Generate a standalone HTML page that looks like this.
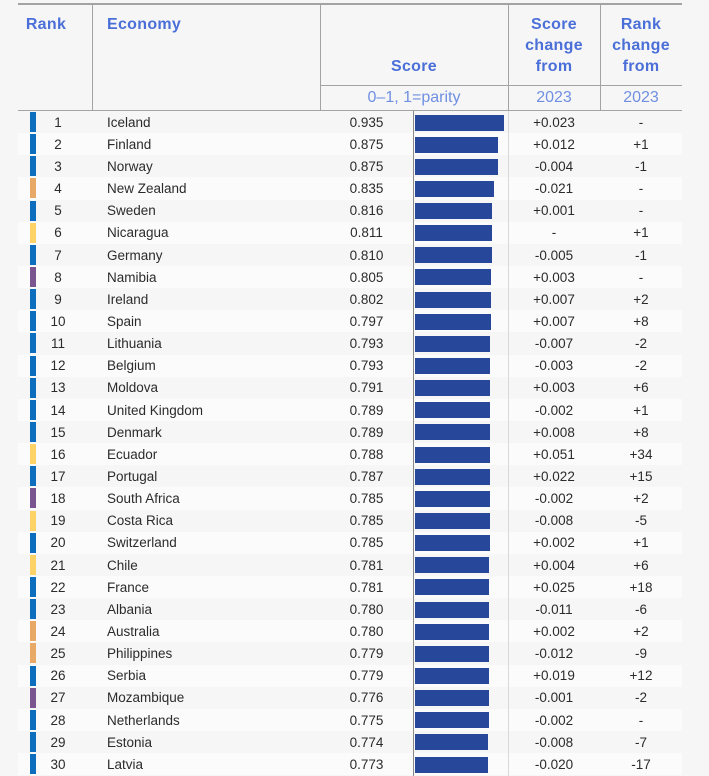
<!DOCTYPE html>
<html><head><meta charset="utf-8">
<style>
*{margin:0;padding:0;box-sizing:border-box}
html,body{width:709px;height:776px;overflow:hidden;background:#f6f6f6;font-family:"Liberation Sans",Arial,sans-serif}
.hl{position:absolute;background:#a3a3a3}
.h{position:absolute;color:#4b6fd8;font-weight:bold;font-size:16px;letter-spacing:0.3px;line-height:21px;text-align:center}
.s{position:absolute;color:#6f8fe2;font-size:16px;line-height:22px;text-align:center;top:86.5px}
.r{position:absolute;left:18px;width:664px;height:22.14px;font-size:13.5px;color:#2b2b2b;line-height:22.14px}
.r.e{background:#fbfbfb}
.r i{position:absolute;left:12px;top:1px;width:5.5px;height:20px}
.b1{background:#0d6ebd}.o{background:#e8a966}.y{background:#fdd266}.p{background:#7a5590}
.r span{top:0.8px}
.r .k{position:absolute;left:20px;width:40px;text-align:center}
.r .n{position:absolute;left:89px}
.r .c{position:absolute;left:302px;width:93px;text-align:center}
.r b{position:absolute;left:396.5px;top:3.5px;height:16px;background:#27479a}
.r .d{position:absolute;left:490px;width:92px;text-align:center}
.r .g{position:absolute;left:582px;width:82px;text-align:center}
</style></head><body>
<div class="hl" style="left:18px;top:3px;width:664px;height:1.5px"></div>
<div class="hl" style="left:320px;top:84.5px;width:362px;height:1.2px"></div>
<div class="hl" style="left:18px;top:109.5px;width:664px;height:1.5px"></div>
<div class="hl" style="left:91.5px;top:3px;width:1.3px;height:107px"></div>
<div class="hl" style="left:319.5px;top:3px;width:1.3px;height:107px"></div>
<div class="hl" style="left:508px;top:3px;width:1.3px;height:107px"></div>
<div class="hl" style="left:599.5px;top:3px;width:1.3px;height:107px"></div>
<div style="position:absolute;left:413px;top:111px;width:1.3px;height:665px;background:#8a8a8a;z-index:2"></div>
<div style="position:absolute;left:508px;top:111px;width:1.3px;height:665px;background:#d8d8d8;z-index:2"></div>

<div class="h" style="left:22px;top:13.5px;width:48px">Rank</div>
<div class="h" style="left:107px;top:13.5px;text-align:left">Economy</div>
<div class="h" style="left:320px;top:55.5px;width:188px">Score</div>
<div class="h" style="left:508px;top:13.5px;width:92px">Score<br>change<br>from</div>
<div class="h" style="left:600px;top:13.5px;width:82px">Rank<br>change<br>from</div>
<div class="s" style="left:320px;width:188px">0–1, 1=parity</div>
<div class="s" style="left:508px;width:92px">2023</div>
<div class="s" style="left:600px;width:82px">2023</div>

<div class="r" style="top:111px"><i class="b1"></i><span class="k">1</span><span class="n">Iceland</span><span class="c">0.935</span><b style="width:89.3px"></b><span class="d">+0.023</span><span class="g">-</span></div>
<div class="r e" style="top:133.14px"><i class="b1"></i><span class="k">2</span><span class="n">Finland</span><span class="c">0.875</span><b style="width:83.6px"></b><span class="d">+0.012</span><span class="g">+1</span></div>
<div class="r" style="top:155.28px"><i class="b1"></i><span class="k">3</span><span class="n">Norway</span><span class="c">0.875</span><b style="width:83.6px"></b><span class="d">-0.004</span><span class="g">-1</span></div>
<div class="r e" style="top:177.42px"><i class="o"></i><span class="k">4</span><span class="n">New Zealand</span><span class="c">0.835</span><b style="width:79.7px"></b><span class="d">-0.021</span><span class="g">-</span></div>
<div class="r" style="top:199.56px"><i class="b1"></i><span class="k">5</span><span class="n">Sweden</span><span class="c">0.816</span><b style="width:77.9px"></b><span class="d">+0.001</span><span class="g">-</span></div>
<div class="r e" style="top:221.7px"><i class="y"></i><span class="k">6</span><span class="n">Nicaragua</span><span class="c">0.811</span><b style="width:77.5px"></b><span class="d">-</span><span class="g">+1</span></div>
<div class="r" style="top:243.84px"><i class="b1"></i><span class="k">7</span><span class="n">Germany</span><span class="c">0.810</span><b style="width:77.4px"></b><span class="d">-0.005</span><span class="g">-1</span></div>
<div class="r e" style="top:265.98px"><i class="p"></i><span class="k">8</span><span class="n">Namibia</span><span class="c">0.805</span><b style="width:76.9px"></b><span class="d">+0.003</span><span class="g">-</span></div>
<div class="r" style="top:288.12px"><i class="b1"></i><span class="k">9</span><span class="n">Ireland</span><span class="c">0.802</span><b style="width:76.6px"></b><span class="d">+0.007</span><span class="g">+2</span></div>
<div class="r e" style="top:310.26px"><i class="b1"></i><span class="k">10</span><span class="n">Spain</span><span class="c">0.797</span><b style="width:76.1px"></b><span class="d">+0.007</span><span class="g">+8</span></div>
<div class="r" style="top:332.4px"><i class="b1"></i><span class="k">11</span><span class="n">Lithuania</span><span class="c">0.793</span><b style="width:75.7px"></b><span class="d">-0.007</span><span class="g">-2</span></div>
<div class="r e" style="top:354.54px"><i class="b1"></i><span class="k">12</span><span class="n">Belgium</span><span class="c">0.793</span><b style="width:75.7px"></b><span class="d">-0.003</span><span class="g">-2</span></div>
<div class="r" style="top:376.68px"><i class="b1"></i><span class="k">13</span><span class="n">Moldova</span><span class="c">0.791</span><b style="width:75.5px"></b><span class="d">+0.003</span><span class="g">+6</span></div>
<div class="r e" style="top:398.82px"><i class="b1"></i><span class="k">14</span><span class="n">United Kingdom</span><span class="c">0.789</span><b style="width:75.3px"></b><span class="d">-0.002</span><span class="g">+1</span></div>
<div class="r" style="top:420.96px"><i class="b1"></i><span class="k">15</span><span class="n">Denmark</span><span class="c">0.789</span><b style="width:75.3px"></b><span class="d">+0.008</span><span class="g">+8</span></div>
<div class="r e" style="top:443.1px"><i class="y"></i><span class="k">16</span><span class="n">Ecuador</span><span class="c">0.788</span><b style="width:75.3px"></b><span class="d">+0.051</span><span class="g">+34</span></div>
<div class="r" style="top:465.24px"><i class="b1"></i><span class="k">17</span><span class="n">Portugal</span><span class="c">0.787</span><b style="width:75.2px"></b><span class="d">+0.022</span><span class="g">+15</span></div>
<div class="r e" style="top:487.38px"><i class="p"></i><span class="k">18</span><span class="n">South Africa</span><span class="c">0.785</span><b style="width:75px"></b><span class="d">-0.002</span><span class="g">+2</span></div>
<div class="r" style="top:509.52px"><i class="y"></i><span class="k">19</span><span class="n">Costa Rica</span><span class="c">0.785</span><b style="width:75px"></b><span class="d">-0.008</span><span class="g">-5</span></div>
<div class="r e" style="top:531.66px"><i class="b1"></i><span class="k">20</span><span class="n">Switzerland</span><span class="c">0.785</span><b style="width:75px"></b><span class="d">+0.002</span><span class="g">+1</span></div>
<div class="r" style="top:553.8px"><i class="y"></i><span class="k">21</span><span class="n">Chile</span><span class="c">0.781</span><b style="width:74.6px"></b><span class="d">+0.004</span><span class="g">+6</span></div>
<div class="r e" style="top:575.94px"><i class="b1"></i><span class="k">22</span><span class="n">France</span><span class="c">0.781</span><b style="width:74.6px"></b><span class="d">+0.025</span><span class="g">+18</span></div>
<div class="r" style="top:598.08px"><i class="b1"></i><span class="k">23</span><span class="n">Albania</span><span class="c">0.780</span><b style="width:74.5px"></b><span class="d">-0.011</span><span class="g">-6</span></div>
<div class="r e" style="top:620.22px"><i class="o"></i><span class="k">24</span><span class="n">Australia</span><span class="c">0.780</span><b style="width:74.5px"></b><span class="d">+0.002</span><span class="g">+2</span></div>
<div class="r" style="top:642.36px"><i class="o"></i><span class="k">25</span><span class="n">Philippines</span><span class="c">0.779</span><b style="width:74.4px"></b><span class="d">-0.012</span><span class="g">-9</span></div>
<div class="r e" style="top:664.5px"><i class="b1"></i><span class="k">26</span><span class="n">Serbia</span><span class="c">0.779</span><b style="width:74.4px"></b><span class="d">+0.019</span><span class="g">+12</span></div>
<div class="r" style="top:686.64px"><i class="p"></i><span class="k">27</span><span class="n">Mozambique</span><span class="c">0.776</span><b style="width:74.1px"></b><span class="d">-0.001</span><span class="g">-2</span></div>
<div class="r e" style="top:708.78px"><i class="b1"></i><span class="k">28</span><span class="n">Netherlands</span><span class="c">0.775</span><b style="width:74px"></b><span class="d">-0.002</span><span class="g">-</span></div>
<div class="r" style="top:730.92px"><i class="b1"></i><span class="k">29</span><span class="n">Estonia</span><span class="c">0.774</span><b style="width:73.9px"></b><span class="d">-0.008</span><span class="g">-7</span></div>
<div class="r e" style="top:753.06px"><i class="b1"></i><span class="k">30</span><span class="n">Latvia</span><span class="c">0.773</span><b style="width:73.8px"></b><span class="d">-0.020</span><span class="g">-17</span></div>
</body></html>
